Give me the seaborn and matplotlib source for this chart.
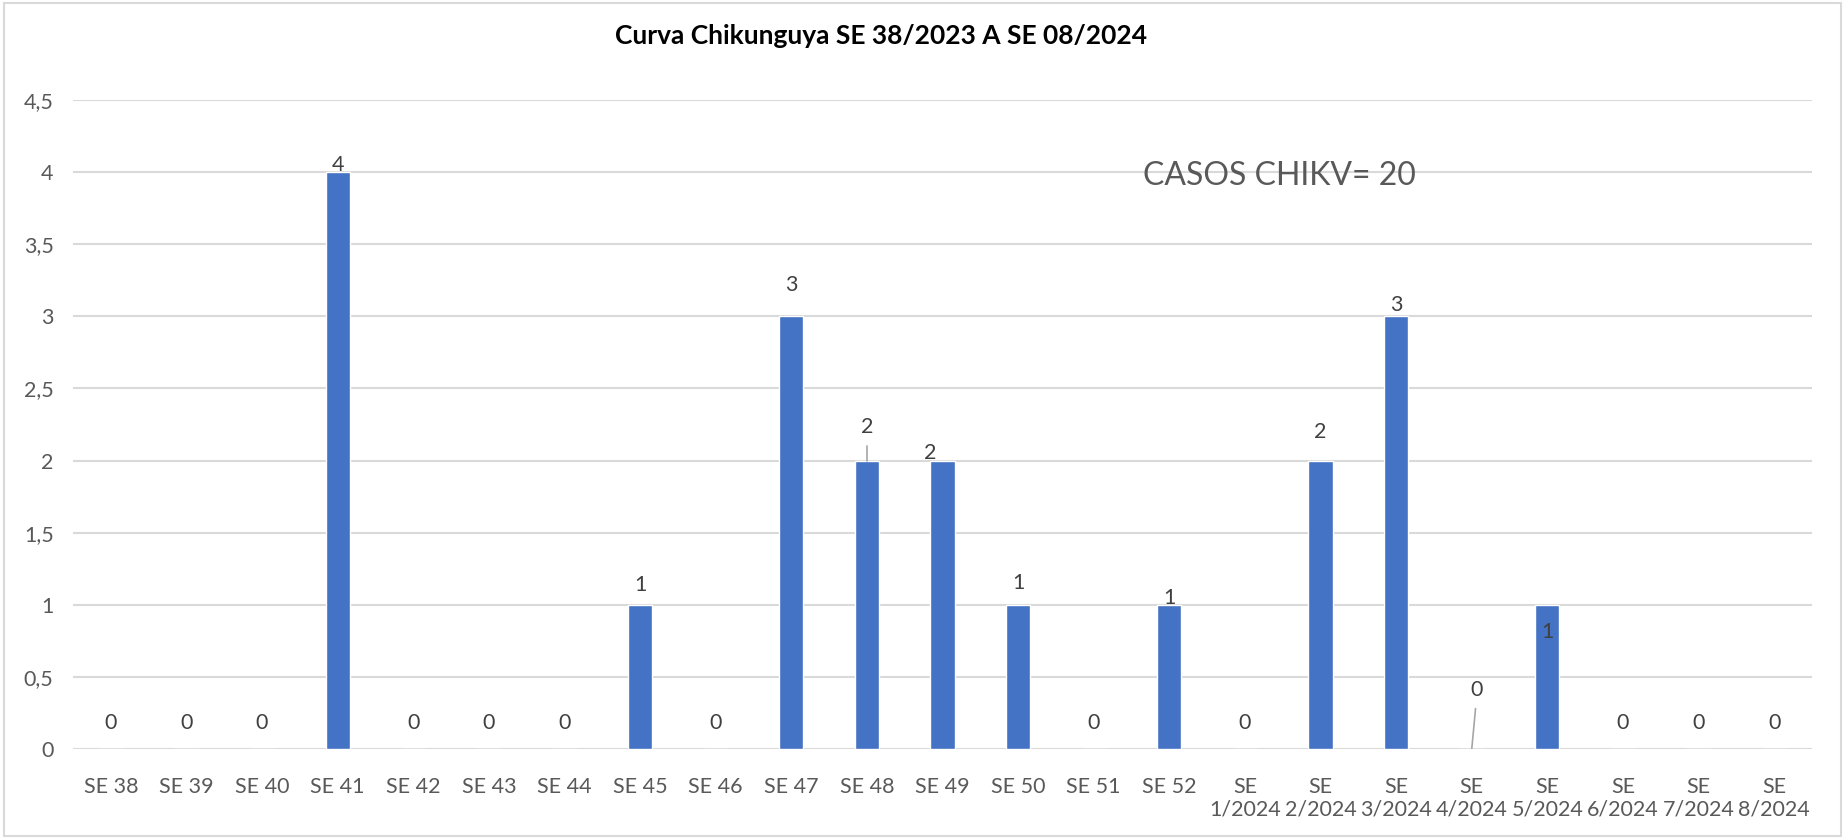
import matplotlib
matplotlib.use("Agg")
import matplotlib.pyplot as plt
import seaborn as sns
import pandas as pd
from matplotlib.patches import Rectangle

# Data
semanas = ["SE 38", "SE 39", "SE 40", "SE 41", "SE 42", "SE 43", "SE 44", "SE 45",
           "SE 46", "SE 47", "SE 48", "SE 49", "SE 50", "SE 51", "SE 52",
           "SE\n1/2024", "SE\n2/2024", "SE\n3/2024", "SE\n4/2024", "SE\n5/2024",
           "SE\n6/2024", "SE\n7/2024", "SE\n8/2024"]
casos = [0, 0, 0, 4, 0, 0, 0, 1, 0, 3, 2, 2, 1, 0, 1, 0, 2, 3, 0, 1, 0, 0, 0]
y_ticks = [0, 0.5, 1, 1.5, 2, 2.5, 3, 3.5, 4, 4.5]
y_tick_labels = ["0", "0,5", "1", "1,5", "2", "2,5", "3", "3,5", "4", "4,5"]
titulo = "Curva Chikunguya SE 38/2023 A SE 08/2024"
total_txt = "CASOS CHIKV= 20"

df = pd.DataFrame({"semana": semanas, "casos": casos})

# Label placement tweaks (Excel style: some above, some on the bar, some with leader lines)
label_dy = {3: 0.05, 9: 0.22, 10: 0.23, 11: 0.05, 12: 0.15, 14: 0.05,
            16: 0.2, 17: 0.08, 18: 0.41, 19: -0.19}
label_dx = {11: -0.16, 18: 0.07}

sns.set_style("white")
plt.rcParams['font.family'] = ['Lato', 'DejaVu Sans']

fig = plt.figure(figsize=(18.45, 8.39), dpi=100)
ax = fig.add_axes([73 / 1845, 1 - 749 / 839, (1812 - 73) / 1845, (749 - 100) / 839])

sns.barplot(data=df, x="semana", y="casos", color="#4472C4", width=0.32,
            saturation=1, ax=ax, order=semanas)

ax.set_xlim(-0.5, len(semanas) - 0.5)
ax.set_ylim(0, 4.5)
ax.set_yticks(y_ticks)
ax.set_yticklabels(y_tick_labels)
ax.set_xlabel("")
ax.set_ylabel("")
ax.grid(axis="y", color="#D9D9D9", linewidth=1.5)
ax.set_axisbelow(True)
for s in ax.spines.values():
    s.set_visible(False)
ax.tick_params(axis="both", length=0, labelsize=15.5, labelcolor="#595959")
ax.tick_params(axis="x", pad=20)
ax.tick_params(axis="y", pad=14)

for i, v in enumerate(casos):
    dy = label_dy.get(i, 0.18 if v == 0 else 0.14)
    dx = label_dx.get(i, 0)
    ax.text(i + dx, v + dy, str(v), ha="center", va="center",
            fontsize=15.5, color="#404040")

# leader lines
ax.plot([10, 10], [2.0, 2.1], color="#A6A6A6", linewidth=1.2)
ax.plot([18.0, 18.05], [0.0, 0.28], color="#A6A6A6", linewidth=1.2)

fig.text(881 / 1845, 1 - 36 / 839, titulo, ha="center", va="center",
         fontsize=19, fontweight="bold", color="#000000")
fig.text(1279 / 1845, 1 - 176 / 839, total_txt, ha="center", va="center",
         fontsize=23, color="#595959")

fig.patches.append(Rectangle((0.002, 0.003), 0.996, 0.994, transform=fig.transFigure,
                             fill=False, edgecolor="#D9D9D9", linewidth=1.5))

fig.savefig("out.png", dpi=100, facecolor="white")
